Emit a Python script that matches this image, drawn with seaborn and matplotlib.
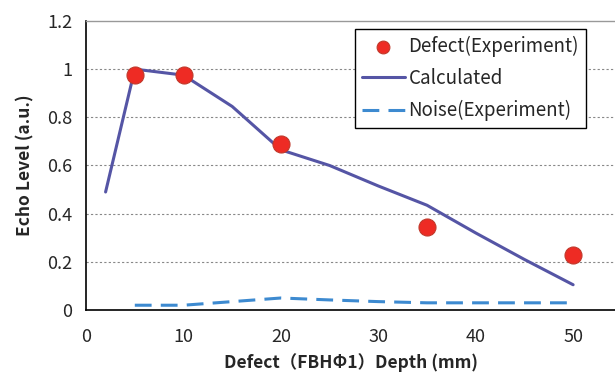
import seaborn as sns
import pandas as pd
import matplotlib.pyplot as plt

# values
calc_depth = [2, 5, 10, 15, 20, 25, 30, 35, 40, 45, 50]
calc_level = [0.49, 1.0, 0.975, 0.845, 0.665, 0.60, 0.515, 0.435, 0.32, 0.21, 0.105]

defect_depth = [5, 10, 20, 35, 50]
defect_level = [0.975, 0.975, 0.69, 0.345, 0.23]

noise_depth = [5, 10, 15, 20, 25, 30, 35, 40, 45, 50]
noise_level = [0.02, 0.02, 0.035, 0.05, 0.042, 0.035, 0.03, 0.03, 0.03, 0.03]

x_ticks = [0, 10, 20, 30, 40, 50]
y_ticks = [0, 0.2, 0.4, 0.6, 0.8, 1.0, 1.2]
y_tick_labels = ["0", "0.2", "0.4", "0.6", "0.8", "1", "1.2"]

sns.set_style("white")
plt.rcParams['font.family'] = ['Noto Sans CJK JP', 'DejaVu Sans']

fig = plt.figure(figsize=(6.15, 3.74), dpi=100)
ax = fig.add_axes([0.140, 0.171, 0.860, 0.773])

df_calc = pd.DataFrame({"depth": calc_depth, "level": calc_level})
df_def = pd.DataFrame({"depth": defect_depth, "level": defect_level})
df_noise = pd.DataFrame({"depth": noise_depth, "level": noise_level})

# dotted grid lines
for y in y_ticks[1:-1]:
    ax.axhline(y, color="#888888", linestyle=(0, (2, 2)), linewidth=0.8, zorder=0)

sns.scatterplot(data=df_def, x="depth", y="level", ax=ax, s=150, color="#ee2b24",
                edgecolor="#c0392b", linewidth=0.8, zorder=4, label="Defect(Experiment)")
sns.lineplot(data=df_calc, x="depth", y="level", ax=ax, color="#5555a5",
             linewidth=2.2, zorder=3, label="Calculated")
sns.lineplot(data=df_noise, x="depth", y="level", ax=ax, color="#3d8ad0",
             linewidth=2.2, linestyle=(0, (5.5, 3)), zorder=3, label="Noise(Experiment)")

ax.set_xlim(0, 54.3)
ax.set_ylim(0, 1.2)
ax.set_xticks(x_ticks)
ax.set_yticks(y_ticks)
ax.set_yticklabels(y_tick_labels)
ax.tick_params(axis="both", direction="out", length=5, width=1, color="black",
               labelsize=13)
ax.tick_params(axis="x", pad=8)
ax.tick_params(axis="y", pad=5)

ax.spines["right"].set_visible(False)
ax.spines["top"].set_color("#999999")
ax.spines["top"].set_linewidth(1)
ax.spines["left"].set_color("black")
ax.spines["bottom"].set_color("black")
ax.spines["left"].set_linewidth(1.2)
ax.spines["bottom"].set_linewidth(1.2)

ax.set_xlabel("Defect（FBHΦ1）Depth (mm)", fontsize=12.5, fontweight="bold", labelpad=5)
ax.set_ylabel("Echo Level (a.u.)", fontsize=12.5, fontweight="bold", labelpad=9)

leg = ax.legend(loc="upper left", bbox_to_anchor=(355 / 615, 1 - 29 / 374),
                bbox_transform=fig.transFigure, fontsize=13.5, frameon=True,
                fancybox=False, edgecolor="black", framealpha=1, markerscale=0.75,
                handlelength=2.3, handletextpad=0.2, labelspacing=0.6,
                borderpad=0.35, borderaxespad=0)
leg.get_frame().set_linewidth(1)

plt.savefig("out.png", dpi=100)
